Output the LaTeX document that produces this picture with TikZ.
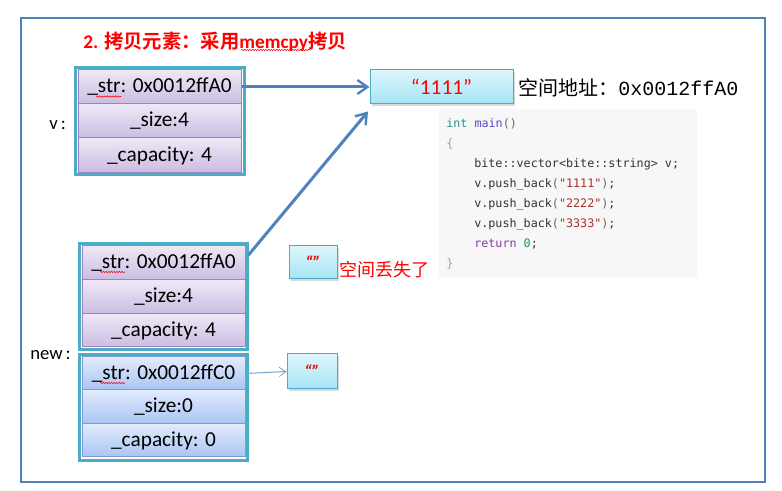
\documentclass[tikz,border=0pt]{standalone}
\usepackage{fontspec}
\setmainfont{Carlito}
\newfontfamily\cjk{Noto Sans CJK SC}[BoldFont={Noto Sans CJK SC Bold}]
\newfontfamily\codefont{DejaVu Sans Mono}
\newfontfamily\addrfont{Liberation Mono}
\usetikzlibrary{arrows.meta,shadows,decorations.pathmorphing}
\def\pxu{0.75pt}
\definecolor{framec}{HTML}{4F81BD}
\definecolor{tealc}{HTML}{4BACC6}
\definecolor{ptop}{HTML}{EEE8F6}
\definecolor{pbot}{HTML}{CBBCE2}
\definecolor{pborder}{HTML}{9A85BD}
\definecolor{btop}{HTML}{E2EBFC}
\definecolor{bbot}{HTML}{A9C4F4}
\definecolor{bborder}{HTML}{7C9BD2}
\definecolor{stop}{HTML}{DDF6FC}
\definecolor{sbot}{HTML}{A6E4F5}
\definecolor{codebg}{HTML}{F7F7F7}
\definecolor{codetext}{HTML}{333333}
\definecolor{kwint}{HTML}{2A8F96}
\definecolor{kwmain}{HTML}{5A4CCF}
\definecolor{kwstr}{HTML}{A8302E}
\definecolor{kwret}{HTML}{8A3F9E}
\definecolor{kwnum}{HTML}{2A8F6A}
\definecolor{paren}{HTML}{666666}
\definecolor{brace}{HTML}{A0A0A0}
\definecolor{thinarrow}{HTML}{7EA0CF}
\begin{document}
\begin{tikzpicture}[x=0.75pt,y=-0.75pt,
  frame/.style={draw=framec,line width=1.5pt},
  tealframe/.style={draw=tealc,line width=2.25pt,inner sep=0pt,minimum width=168*\pxu,minimum height=106*\pxu},
  pcell/.style={draw=pborder,line width=0.75pt,top color=ptop,bottom color=pbot,minimum width=163*\pxu,minimum height=34*\pxu,inner sep=0pt,font=\fontsize{16}{19}\selectfont},
  bcell/.style={draw=bborder,line width=0.75pt,top color=btop,bottom color=bbot,minimum width=163*\pxu,minimum height=34*\pxu,inner sep=0pt,font=\fontsize{16}{19}\selectfont},
  sbox/.style={draw=tealc,line width=0.75pt,top color=stop,bottom color=sbot,inner sep=0pt,drop shadow={opacity=0.3,shadow xshift=1.2pt,shadow yshift=-1.2pt}},
  squig/.style={draw=red,line width=0.4pt,decorate,decoration={snake,amplitude=0.5pt,segment length=2pt}},
  codeline/.style={anchor=west,inner sep=0pt,font=\codefont\fontsize{8.8}{10}\selectfont,text=codetext},
  bigarrow/.style={draw=framec,line width=2.25pt,-{Straight Barb[length=7.5pt,width=10.5pt,line width=1.8pt]}},
  smallarrow/.style={draw=thinarrow,line width=0.75pt,-{Straight Barb[length=5pt,width=7pt,line width=0.6pt]}},
  lbl/.style={anchor=west,inner sep=0pt}
]
\useasboundingbox (0,0) rectangle (782,491);
\draw[frame] (21,18) rectangle (765,482);

% title
\node[lbl,text=red,font=\bfseries\fontsize{14.5}{17}\selectfont] (title) at (83,42) {2. {\cjk 拷贝元素：采用}memcpy{\cjk 拷贝}};
\draw[squig] (241,50) -- (310,50);

% v block
\node[tealframe,minimum width=169*\pxu,minimum height=107*\pxu] (vframe) at (160,121) {};
\node[pcell] (vstr) at (159.5,87) {\_str: 0x0012ffA0};
\node[pcell] (vsize) at (159.5,121) {\_size:4};
\node[pcell,minimum height=35*\pxu] (vcap) at (159.5,155.5) {\_capacity: 4};
\draw[squig] ([xshift=18.5*\pxu,yshift=-9.5*\pxu]vstr.west) -- ++(25,0);
\node[lbl,font=\fontsize{14}{17}\selectfont] (vlab) at (49,125) {v\,:};

% new block (purple)
\node[tealframe] (nframe) at (163.5,296.5) {};
\node[pcell] (nstr) at (163.5,263) {\_str: 0x0012ffA0};
\node[pcell] (nsize) at (163.5,297) {\_size:4};
\node[pcell,minimum height=33*\pxu] (ncap) at (163.5,330.5) {\_capacity: 4};
\draw[squig] ([xshift=18.5*\pxu,yshift=-9*\pxu]nstr.west) -- ++(25,0);

% new block (blue)
\node[tealframe] (bframe) at (163.5,407.5) {};
\node[bcell,minimum height=33*\pxu] (bstr) at (163.5,373.5) {\_str: 0x0012ffC0};
\node[bcell] (bsize) at (163.5,407) {\_size:0};
\node[bcell,minimum height=33*\pxu] (bcap) at (163.5,440.5) {\_capacity: 0};
\draw[squig] ([xshift=18.5*\pxu,yshift=-9.5*\pxu]bstr.west) -- ++(25,0);
\node[lbl,font=\fontsize{14}{17}\selectfont] (newlab) at (30,355) {new\,:};

% string boxes
\node[sbox,minimum width=143*\pxu,minimum height=34*\pxu,text=red,font=\fontsize{16}{19}\selectfont] (s1111) at (441.5,87) {“1111”};
\node[lbl,font=\fontsize{15}{18}\selectfont] (addr) at (518,88) {{\cjk 空间地址：}{\addrfont 0x0012ffA0}};
\node[sbox,minimum width=48*\pxu,minimum height=33*\pxu,text=red,font=\bfseries\itshape\fontsize{13}{15}\selectfont] (e1) at (313,262.5) {“”};
\node[lbl,text=red,font=\cjk\fontsize{13.5}{16}\selectfont] (lost) at (339,270) {空间丢失了};
\node[sbox,minimum width=50*\pxu,minimum height=35*\pxu,text=red,font=\bfseries\itshape\fontsize{13}{15}\selectfont] (e2) at (312,371.5) {“”};

% code block
\node[fill=codebg,inner sep=0pt,minimum width=258*\pxu,minimum height=168*\pxu] (code) at (568,193) {};
\node[codeline] (c1) at (446,124) {\textcolor{kwint}{int} \textcolor{kwmain}{main}\textcolor{paren}{()}};
\node[codeline] (c2) at (446,144) {\textcolor{brace}{\{}};
\node[codeline] (c3) at (474,164) {bite::vector<bite::string> v;};
\node[codeline] (c4) at (474,184) {v.push\_back\textcolor{paren}{(}\textcolor{kwstr}{"1111"}\textcolor{paren}{)};};
\node[codeline] (c5) at (474,204) {v.push\_back\textcolor{paren}{(}\textcolor{kwstr}{"2222"}\textcolor{paren}{)};};
\node[codeline] (c6) at (474,224) {v.push\_back\textcolor{paren}{(}\textcolor{kwstr}{"3333"}\textcolor{paren}{)};};
\node[codeline] (c7) at (474,244) {\textcolor{kwret}{return} \textcolor{kwnum}{0};};
\node[codeline] (c8) at (446,264) {\textcolor{brace}{\}}};

% arrows
\draw[bigarrow] (vstr.east) -- (s1111.west);
\draw[bigarrow] ([xshift=3*\pxu,yshift=8*\pxu]nstr.east) -- ([xshift=-1.5*\pxu,yshift=-7*\pxu]s1111.south west);
\draw[smallarrow] (bstr.east) -- (e2.west);
\end{tikzpicture}
\end{document}
